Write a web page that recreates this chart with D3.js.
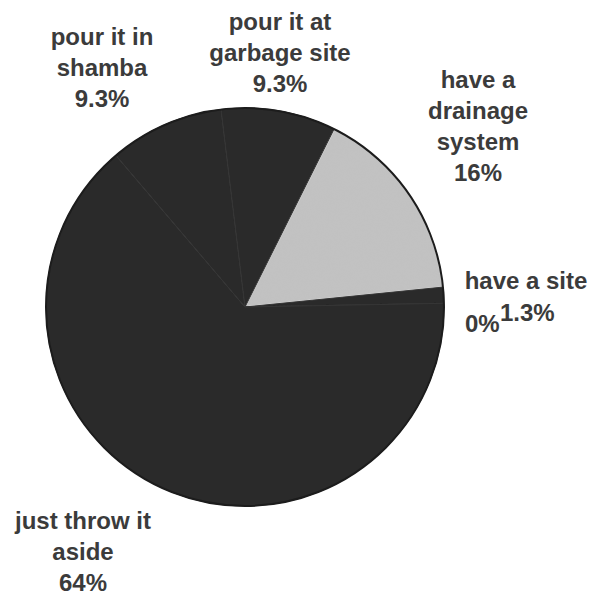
<!DOCTYPE html>
<html>
<head>
<meta charset="utf-8">
<script src="https://cdn.jsdelivr.net/npm/d3@7"></script>
<style>
  html, body { margin: 0; padding: 0; background: #ffffff; }
  svg { display: block; }
</style>
</head>
<body>
<svg id="chart" width="592" height="597"></svg>
<script>
// ---- data ----
const categories = ["have a drainage system", "have a site", "", "just throw it aside", "pour it in shamba", "pour it at garbage site"];
const values = [16, 1.3, 0, 64, 9.3, 9.3];
const valueLabels = ["16%", "1.3%", "0%", "64%", "9.3%", "9.3%"];
const labelLines = [
  ["have a", "drainage", "system", "16%"],
  ["have a site"],
  [],
  ["just throw it", "aside", "64%"],
  ["pour it in", "shamba", "9.3%"],
  ["pour it at", "garbage site", "9.3%"]
];

// ---- layout ----
const W = 592, H = 597;
const cx = 245, cy = 307, R = 199;
const startDeg = 26.6;
const lineH = 31;
const labelAnchors = [
  {x: 478, y: 88},
  {x: 526, y: 289},
  null,
  {x: 83, y: 529},
  {x: 102, y: 45},
  {x: 280, y: 30}
];
const fills = ["#c2c2c2", "#2a2a2a", "#2a2a2a", "#2a2a2a", "#2a2a2a", "#2a2a2a"];

const svg = d3.select("#chart");

// subtle paper noise filter for the light slice
const defs = svg.append("defs");
const f = defs.append("filter").attr("id", "grain");
f.append("feTurbulence").attr("type", "fractalNoise").attr("baseFrequency", 0.9).attr("numOctaves", 2).attr("seed", 3).attr("result", "n");
f.append("feColorMatrix").attr("in", "n").attr("type", "matrix")
  .attr("values", "0 0 0 0 0.5  0 0 0 0 0.5  0 0 0 0 0.5  0 0 0 0.18 0").attr("result", "g");
f.append("feComposite").attr("in", "g").attr("in2", "SourceGraphic").attr("operator", "in").attr("result", "gi");
f.append("feMerge").selectAll("feMergeNode").data(["SourceGraphic", "gi"]).enter()
  .append("feMergeNode").attr("in", d => d);

const data = categories.map((c, i) => ({cat: c, value: values[i], idx: i}));

const pie = d3.pie()
  .sort(null)
  .value(d => d.value)
  .startAngle(startDeg * Math.PI / 180)
  .endAngle(startDeg * Math.PI / 180 + 2 * Math.PI);

const arc = d3.arc().innerRadius(0).outerRadius(R);

const g = svg.append("g").attr("transform", `translate(${cx},${cy})`);

g.selectAll("path.slice")
  .data(pie(data))
  .enter()
  .append("path")
  .attr("class", "slice")
  .attr("d", arc)
  .attr("fill", d => fills[d.data.idx])
  .attr("stroke", d => d.data.idx === 0 ? "#e6e6e6" : "#363636")
  .attr("stroke-width", d => d.data.idx === 0 ? 1.6 : 1)
  .attr("stroke-linejoin", "round")
  .attr("filter", d => d.data.idx === 0 ? "url(#grain)" : null);

// outer rim
g.append("circle").attr("r", R).attr("fill", "none").attr("stroke", "#1c1c1c").attr("stroke-width", 2);

// ---- labels ----
const txtStyle = sel => sel
  .attr("font-family", "'Liberation Sans', Arial, sans-serif")
  .attr("font-weight", "bold")
  .attr("font-size", 24)
  .attr("fill", "#3b3b3b");

data.forEach((d, i) => {
  const a = labelAnchors[i];
  if (!a) return;
  const lines = labelLines[i];
  const t = svg.append("text").call(txtStyle).attr("text-anchor", "middle");
  lines.forEach((ln, k) => {
    t.append("tspan").attr("x", a.x).attr("y", a.y + k * lineH).text(ln);
  });
});

// small labels for the tiny slices near 3 o'clock
svg.append("text").call(txtStyle).attr("x", 465).attr("y", 332).text(valueLabels[2]);
svg.append("text").call(txtStyle).attr("x", 500).attr("y", 321).text(valueLabels[1]);
</script>
</body>
</html>
